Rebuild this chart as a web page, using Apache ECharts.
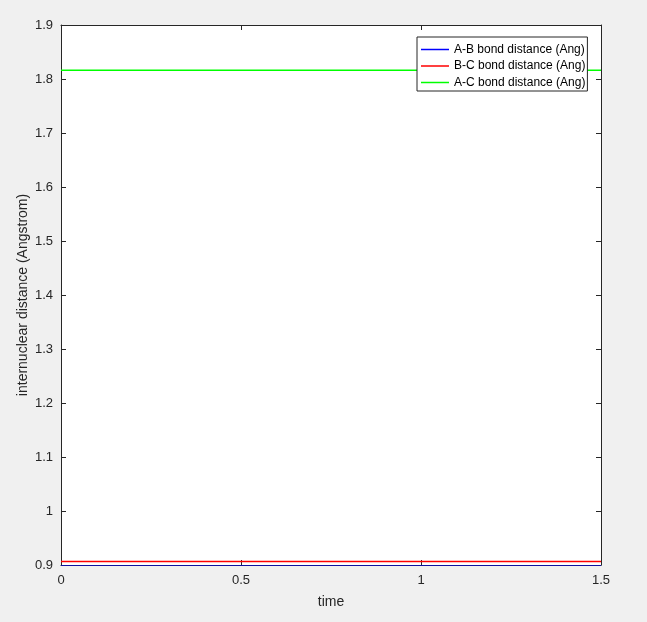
<!DOCTYPE html>
<html>
<head>
<meta charset="utf-8">
<script src="https://cdn.jsdelivr.net/npm/echarts@6/dist/echarts.min.js"></script>
<style>
html,body{margin:0;padding:0;background:#f0f0f0;}
#chart{width:647px;height:622px;}
</style>
</head>
<body>
<div id="chart"></div>
<script>
const seriesNames = ['A-B bond distance (Ang)', 'B-C bond distance (Ang)', 'A-C bond distance (Ang)'];
const time = [0, 0.25, 0.5, 0.75, 1, 1.25, 1.5];
const abDistance = [0.898, 0.898, 0.898, 0.898, 0.898, 0.898, 0.898];
const bcDistance = [0.9065, 0.9065, 0.9065, 0.9065, 0.9065, 0.9065, 0.9065];
const acDistance = [1.816, 1.816, 1.816, 1.816, 1.816, 1.816, 1.816];
const seriesColors = ['#0000ff', '#ff0000', '#00ff00'];
const xTicks = [0, 0.5, 1, 1.5];
const yTicks = [0.9, 1, 1.1, 1.2, 1.3, 1.4, 1.5, 1.6, 1.7, 1.8, 1.9];

const FONT = 'Liberation Sans, Arial, Helvetica, sans-serif';
const AX = '#262626';
const pair = (xs, ys) => xs.map((x, i) => [x, ys[i]]);
const allData = [abDistance, bcDistance, acDistance];

const chart = echarts.init(document.getElementById('chart'));
const axisCommon = {
  axisLine: {show: true, onZero: false, lineStyle: {color: AX, width: 1}},
  axisTick: {show: true, inside: true, length: 5, lineStyle: {color: AX}},
  splitLine: {show: false}
};
chart.setOption({
  backgroundColor: '#f0f0f0',
  animation: false,
  grid: {left: 61, top: 25, width: 540, height: 540, show: true, backgroundColor: '#ffffff', borderWidth: 0},
  xAxis: [
    Object.assign({
      type: 'value', min: xTicks[0], max: xTicks[xTicks.length - 1], interval: 0.5, position: 'bottom',
      name: 'time', nameLocation: 'middle', nameGap: 30, nameMoveOverlap: false,
      nameTextStyle: {fontFamily: FONT, fontSize: 14, color: AX},
      axisLabel: {fontFamily: FONT, fontSize: 13, color: AX, margin: 9,
        formatter: v => String(parseFloat(v.toFixed(2)))}
    }, axisCommon),
    Object.assign({
      type: 'value', min: xTicks[0], max: xTicks[xTicks.length - 1], interval: 0.5, position: 'top',
      axisLabel: {show: false}
    }, axisCommon)
  ],
  yAxis: [
    Object.assign({
      type: 'value', min: yTicks[0], max: yTicks[yTicks.length - 1], interval: 0.1, position: 'left',
      name: 'internuclear distance (Angstrom)', nameLocation: 'middle', nameGap: 31, nameMoveOverlap: false,
      nameTextStyle: {fontFamily: FONT, fontSize: 14, color: AX},
      axisLabel: {fontFamily: FONT, fontSize: 13, color: AX, margin: 8,
        formatter: v => String(parseFloat(v.toFixed(2)))}
    }, axisCommon),
    Object.assign({
      type: 'value', min: yTicks[0], max: yTicks[yTicks.length - 1], interval: 0.1, position: 'right',
      axisLabel: {show: false}
    }, axisCommon)
  ],
  legend: {
    orient: 'vertical', left: 417, top: 37,
    backgroundColor: '#ffffff', borderColor: AX, borderWidth: 1,
    padding: [6.5, 2, 2.5, 4], itemGap: 4.5, itemWidth: 28, itemHeight: 1.5, icon: 'rect',
    textStyle: {fontFamily: FONT, fontSize: 12, color: '#000000'},
    data: seriesNames
  },
  series: seriesNames.map((name, i) => ({
    name: name, type: 'line', data: pair(time, allData[i]),
    symbol: 'none', clip: true, color: seriesColors[i],
    itemStyle: {color: seriesColors[i]},
    lineStyle: {color: seriesColors[i], width: 1.5}
  }))
});
</script>
</body>
</html>
